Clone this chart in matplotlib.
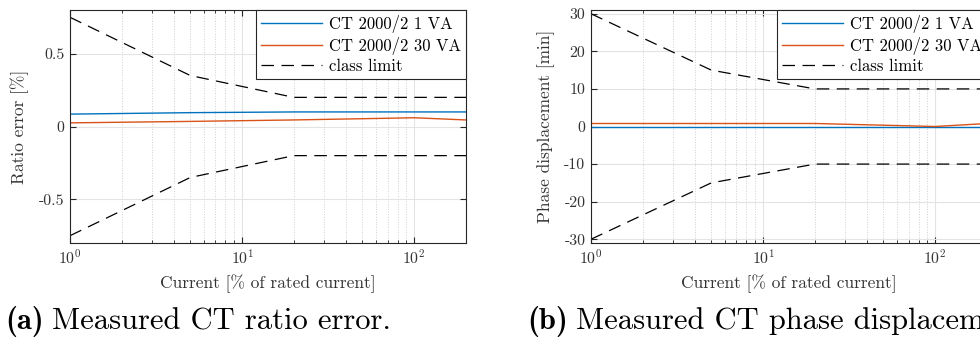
import numpy as np
import matplotlib
matplotlib.use("Agg")
import matplotlib.pyplot as plt
from matplotlib.ticker import LogLocator, NullFormatter

plt.rcParams['font.family'] = 'serif'
plt.rcParams['font.serif'] = ['cmr10']
plt.rcParams['mathtext.fontset'] = 'cm'
plt.rcParams['axes.formatter.use_mathtext'] = True
plt.rcParams['axes.unicode_minus'] = False

# data
current = [1, 5, 20, 100, 200]
ratio_1va = [0.085, 0.095, 0.1, 0.1, 0.1]
ratio_30va = [0.025, 0.035, 0.045, 0.06, 0.045]
ratio_limit = [0.75, 0.35, 0.2, 0.2, 0.2]
phase_1va = [-0.1, -0.1, -0.1, -0.1, -0.1]
phase_30va = [0.8, 0.8, 0.8, 0.0, 0.8]
phase_limit = [30, 15, 10, 10, 10]

blue = '#0072BD'
orange = '#D95319'
axcol = '#262626'
fs_tick = 11.4
fs_lab = 12.5
fs_leg = 12

fig = plt.figure(figsize=(9.8, 3.47), dpi=100)
ax1 = fig.add_axes([70/980, 104/347, 396/980, 233/347])
ax2 = fig.add_axes([591/980, 104/347, 396/980, 233/347])


def style(ax, ylabel, lim, yticks, yticklabels):
    ax.set_xscale('log')
    ax.set_xlim(1, 200)
    ax.set_ylim(*lim)
    ax.set_yticks(yticks)
    ax.set_yticklabels(yticklabels)
    ax.xaxis.set_major_locator(LogLocator(base=10, numticks=10))
    ax.xaxis.set_minor_locator(LogLocator(base=10, subs=np.arange(2, 10), numticks=10))
    ax.xaxis.set_minor_formatter(NullFormatter())
    ax.grid(True, which='major', color='#e3e3e3', lw=0.8, ls='-')
    ax.grid(True, which='minor', axis='x', color='#cfcfcf', lw=0.7, ls=':')
    ax.set_axisbelow(True)
    for s in ax.spines.values():
        s.set_color(axcol)
        s.set_linewidth(0.8)
    ax.tick_params(which='both', direction='in', top=True, right=True,
                   colors=axcol, labelsize=fs_tick, labelcolor='#333333')
    ax.tick_params(which='major', length=4, pad=4)
    ax.tick_params(which='minor', length=2.5)
    ax.set_xlabel('Current [% of rated current]', fontsize=fs_lab, color='#333333', labelpad=5)
    ax.set_ylabel(ylabel, fontsize=fs_lab, color='#333333', labelpad=7)


ax1.plot(current, ratio_1va, color=blue, lw=1.0, label='CT 2000/2 1 VA')
ax1.plot(current, ratio_30va, color=orange, lw=1.0, label='CT 2000/2 30 VA')
ax1.plot(current, ratio_limit, color='black', lw=0.9, dashes=(10, 6), label='class limit')
ax1.plot(current, [-v for v in ratio_limit], color='black', lw=0.9, dashes=(10, 6))
style(ax1, 'Ratio error [%]', (-0.8, 0.8), [-0.5, 0, 0.5], ['-0.5', '0', '0.5'])

ax2.plot(current, phase_1va, color=blue, lw=1.0, label='CT 2000/2 1 VA')
ax2.plot(current, phase_30va, color=orange, lw=1.0, label='CT 2000/2 30 VA')
ax2.plot(current, phase_limit, color='black', lw=0.9, dashes=(10, 6), label='class limit')
ax2.plot(current, [-v for v in phase_limit], color='black', lw=0.9, dashes=(10, 6))
style(ax2, 'Phase displacement [min]', (-31, 31), [-30, -20, -10, 0, 10, 20, 30],
      ['-30', '-20', '-10', '0', '10', '20', '30'])

for ax in (ax1, ax2):
    leg = ax.legend(loc='upper right', fontsize=fs_leg, frameon=True, fancybox=False,
                    borderaxespad=0, handlelength=3.7, borderpad=0.3,
                    labelspacing=0.22, handletextpad=0.4)
    leg.get_frame().set_edgecolor(axcol)
    leg.get_frame().set_linewidth(0.8)
    leg.get_frame().set_alpha(1)

# captions: bold "(a)" / "(b)" followed by regular text
renderer = fig.canvas.get_renderer()
for x0, tag, rest in [(5, '(a)', 'Measured CT ratio error.'),
                      (527, '(b)', 'Measured CT phase displacement.')]:
    t = fig.text(x0/980, 1 - 329/347, tag, fontsize=22, family='cmb10', va='baseline')
    bb = t.get_window_extent(renderer)
    fig.text((bb.x1 + 8)/980, 1 - 329/347, rest, fontsize=22, va='baseline')

fig.savefig('out.png', dpi=100)
